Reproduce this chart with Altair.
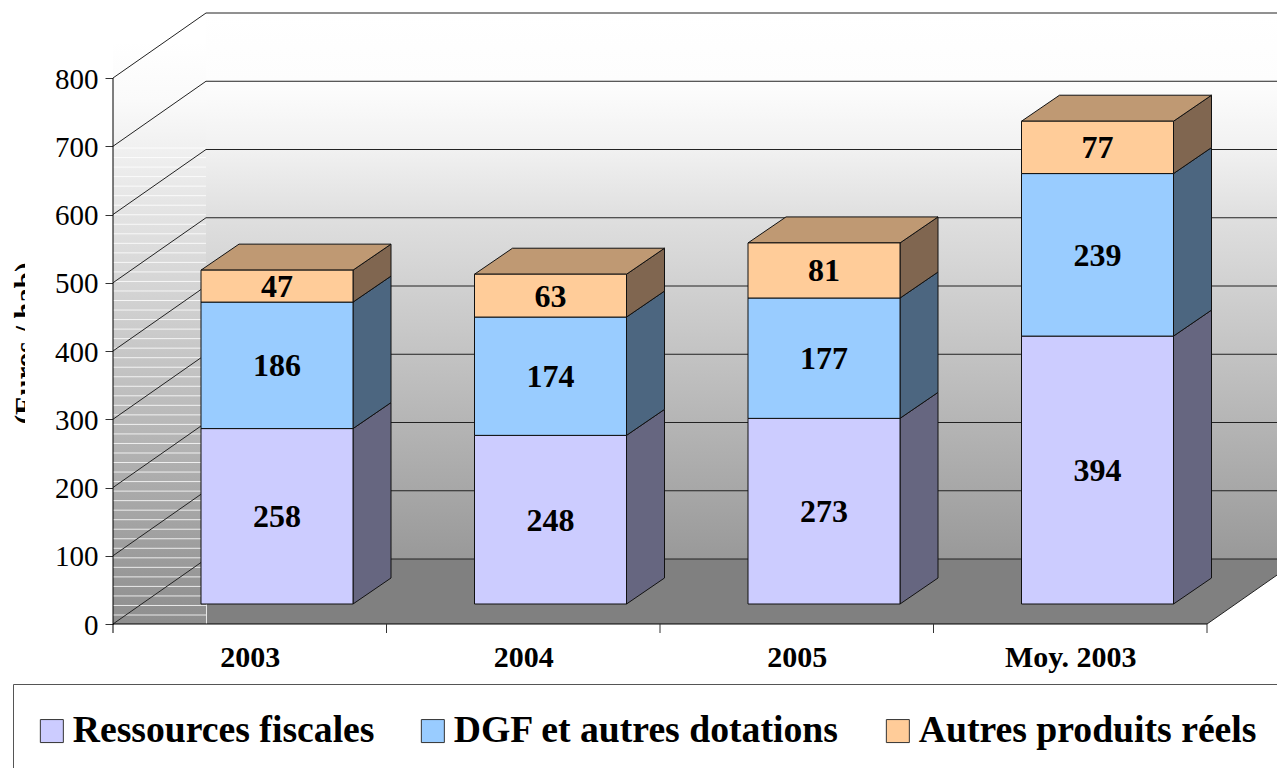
import altair as alt
import pandas as pd

categories = ["2003", "2004", "2005", "Moy. 2003"]
series = ["Ressources fiscales", "DGF et autres dotations", "Autres produits réels"]
fiscales = [258, 248, 273, 394]
dotations = [186, 174, 177, 239]
autres = [47, 63, 81, 77]
front_colors = ["#CCCCFF", "#99CCFF", "#FFCC99"]
side_colors = ["#666680", "#4C6680", "#806650"]
top_color = "#BF9973"
y_ticks = [0, 100, 200, 300, 400, 500, 600, 700, 800]
FONT = "Liberation Serif"

# projection of the fake 3D box, in data units
PX_PER_CAT = 273.5
PX_PER_VAL = 0.6825
def cx(px): return (px - 113) / PX_PER_CAT
def vy(py): return (624 - py) / PX_PER_VAL
WALL_DX = 93 / PX_PER_CAT
WALL_DY = 65 / PX_PER_VAL
BAR_DX = 38 / PX_PER_CAT
BAR_DY = 26 / PX_PER_VAL
BAR_L = 88 / PX_PER_CAT
BAR_W = 152 / PX_PER_CAT
BAR_BASE = 20 / PX_PER_VAL
BAR_K = 0.9963
xdom = [cx(8), cx(1277)]
ydom = [vy(768), vy(8)]

AX_X = alt.Axis(
    values=[0.5, 1.5, 2.5, 3.5], labelExpr="['2003','2004','2005','Moy. 2003'][datum.value-0.5]",
    domain=False, ticks=False, grid=False, title=None, offset=-144, labelFont=FONT, labelFontWeight="bold",
    labelFontSize=30, labelColor="black", labelPadding=18, labelAngle=0, labelFlush=False)
AX_Y = alt.Axis(
    values=y_ticks, domain=False, grid=False, offset=-105, tickSize=8, tickColor="#333", labelFont=FONT,
    labelFontSize=29, labelColor="black", labelPadding=7, labelOffset=1, title="(Euros / hab)", titleFont=FONT,
    titleFontSize=29, titleFontWeight="bold", titleColor="black", titleAngle=270, titleX=-79, titleY=335,
    titleAlign="center", titleBaseline="alphabetic")

def X(f):
    return alt.X(f, type="quantitative", scale=alt.Scale(domain=xdom, nice=False, zero=False), axis=AX_X, stack=None)
def Y(f):
    return alt.Y(f, type="quantitative", scale=alt.Scale(domain=ydom, nice=False, zero=False), axis=AX_Y, stack=None)

rows = []
for i, c in enumerate(categories):
    lo = 0
    for s, vals in zip(series, [fiscales, dotations, autres]):
        v = vals[i]
        y0 = BAR_BASE + lo * BAR_K
        y1 = BAR_BASE + (lo + v) * BAR_K
        rows.append(dict(group=c, i=i, series=s, v=v, x0=i + BAR_L, x1=i + BAR_L + BAR_W,
                         y0=y0, y1=y1, xm=i + BAR_L + BAR_W / 2, ym=(y0 + y1) / 2))
        lo += v
bars = pd.DataFrame(rows)

layers = []

# back wall
back = pd.DataFrame([dict(x=cx(206), x2=cx(206) + 4, y=WALL_DY, y2=800 + WALL_DY)])
layers.append(alt.Chart(back).mark_rect(fill=alt.Gradient(
    gradient="linear", x1=0, x2=0, y1=1, y2=0,
    stops=[alt.GradientStop(offset=0, color="#999999"), alt.GradientStop(offset=0.626, color="#DFDFDF"),
           alt.GradientStop(offset=0.75, color="#F1F1F1"), alt.GradientStop(offset=0.875, color="#FDFDFD"),
           alt.GradientStop(offset=1, color="#FFFFFF")]
)).encode(x=X("x"), x2="x2", y=Y("y"), y2="y2"))

# mask clipping the axis title like the reference
mask = pd.DataFrame([dict(x=cx(25), x2=cx(54), y=vy(435), y2=vy(250))])
layers.append(alt.Chart(mask).mark_rect(fill="white").encode(x=X("x"), x2="x2", y=Y("y"), y2="y2"))

# left wall, banded
left = pd.DataFrame([dict(x=0, x2=WALL_DX, y=0, y2=vy(42))])
layers.append(alt.Chart(left).mark_rect(fill=alt.Gradient(
    gradient="linear", x1=0, x2=0, y1=1, y2=0,
    stops=[alt.GradientStop(offset=0, color="#8E8E8E"), alt.GradientStop(offset=0.534, color="#CFCFCF"),
           alt.GradientStop(offset=0.9, color="#FAFAFA"), alt.GradientStop(offset=1, color="#FFFFFF")]
)).encode(x=X("x"), x2="x2", y=Y("y"), y2="y2"))
bands = pd.DataFrame([dict(x=0, x2=WALL_DX, y=vy(615 - 9.53 * k)) for k in range(50)])
layers.append(alt.Chart(bands).mark_rule(color="white", opacity=0.8, strokeWidth=1).encode(x=X("x"), x2="x2", y=Y("y")))

# floor
layers.append(alt.Chart(pd.DataFrame([dict(y=0, x=WALL_DX, x2=4), dict(y=WALL_DY, x=WALL_DX, x2=4 + WALL_DX)]))
              .mark_area(orient="horizontal", fill="#808080").encode(y=Y("y"), x=X("x"), x2="x2"))
layers.append(alt.Chart(pd.DataFrame([dict(x=WALL_DX, x2=WALL_DX + 0.003, y=0, y2=WALL_DY * 0.31)]))
              .mark_rect(fill="white").encode(x=X("x"), x2="x2", y=Y("y"), y2="y2"))

# grid: back wall lines and left wall diagonals
grid = []
for t in y_ticks:
    grid.append(dict(k=t, w="back", x=WALL_DX, y=t + WALL_DY))
    grid.append(dict(k=t, w="back", x=4 + WALL_DX, y=t + WALL_DY))
    grid.append(dict(k=t, w="side", x=0, y=t))
    grid.append(dict(k=t, w="side", x=WALL_DX, y=t + WALL_DY))
grid.append(dict(k=-1, w="edge", x=4, y=0))
grid.append(dict(k=-1, w="edge", x=4 + WALL_DX, y=WALL_DY))
layers.append(alt.Chart(pd.DataFrame(grid)).mark_line(color="#222", strokeWidth=1).encode(
    x=X("x"), y=Y("y"), detail=["k:N", "w:N"]))

# axis lines and category ticks
lines = pd.DataFrame([dict(x=0, y=vy(633), y2=800)])
layers.append(alt.Chart(lines).mark_rule(color="black", strokeWidth=1).encode(x=X("x"), y=Y("y"), y2="y2"))
layers.append(alt.Chart(pd.DataFrame([dict(x=0, x2=4, y=0)])).mark_rule(color="black", strokeWidth=1.2).encode(
    x=X("x"), x2="x2", y=Y("y")))
layers.append(alt.Chart(pd.DataFrame([dict(x=i, y=vy(633), y2=0) for i in range(1, 5)])).mark_rule(
    color="#333", strokeWidth=1).encode(x=X("x"), y=Y("y"), y2="y2"))

# right edge of the legend frame, at the limit of the drawing area
layers.append(alt.Chart(pd.DataFrame([dict(x=cx(1276), y=vy(684), y2=vy(768))])).mark_rule(
    color="#555", strokeWidth=1.5).encode(x=X("x"), y=Y("y"), y2="y2"))

# bar side faces
for s, col in zip(series, side_colors):
    d = bars[bars.series == s]
    pts = []
    for _, r in d.iterrows():
        pts.append(dict(k=r.group, x=r.x1, y=r.y0, y2=r.y1))
        pts.append(dict(k=r.group, x=r.x1 + BAR_DX, y=r.y0 + BAR_DY, y2=r.y1 + BAR_DY))
    layers.append(alt.Chart(pd.DataFrame(pts)).mark_area(fill=col, stroke="#111", strokeWidth=1).encode(
        x=X("x"), y=Y("y"), y2="y2", detail="k:N"))

# bar top faces
d = bars[bars.series == series[-1]]
pts = []
for _, r in d.iterrows():
    pts.append(dict(k=r.group, y=r.y1, x=r.x0, x2=r.x1))
    pts.append(dict(k=r.group, y=r.y1 + BAR_DY, x=r.x0 + BAR_DX, x2=r.x1 + BAR_DX))
layers.append(alt.Chart(pd.DataFrame(pts)).mark_area(orient="horizontal", fill=top_color, stroke="#111", strokeWidth=1).encode(
    y=Y("y"), x=X("x"), x2="x2", detail="k:N"))

# bar fronts, carrying the legend
layers.append(alt.Chart(bars).mark_bar(stroke="#111", strokeWidth=1).encode(
    x=X("x0"), x2="x1", y=Y("y0"), y2="y1",
    color=alt.Color("series:N", sort=None, scale=alt.Scale(domain=series, range=front_colors),
                    legend=alt.Legend(orient="none", legendX=5, legendY=676, direction="horizontal", title=None,
                                      labelFont=FONT, labelFontWeight="bold", labelFontSize=37.7, labelColor="black",
                                      labelLimit=600, labelOffset=2, symbolType="square", symbolSize=529,
                                      symbolOffset=-8, zindex=0,
                                      symbolStrokeColor="#333", symbolStrokeWidth=1, symbolOpacity=1,
                                      columnPadding=44, padding=28, strokeColor="#555", fillColor="white"))))

# value labels
layers.append(alt.Chart(bars).mark_text(font=FONT, fontWeight="bold", fontSize=32, color="black", baseline="middle", dy=1).encode(
    x=X("xm"), y=Y("ym"), text="v:Q"))

chart = alt.layer(*layers).properties(
    width=1269, height=760, padding=0, autosize=alt.AutoSizeParams(type="none"), background="white"
).configure_view(stroke=None)

chart.save("out.html", embed_options={"renderer": "svg", "actions": False})
